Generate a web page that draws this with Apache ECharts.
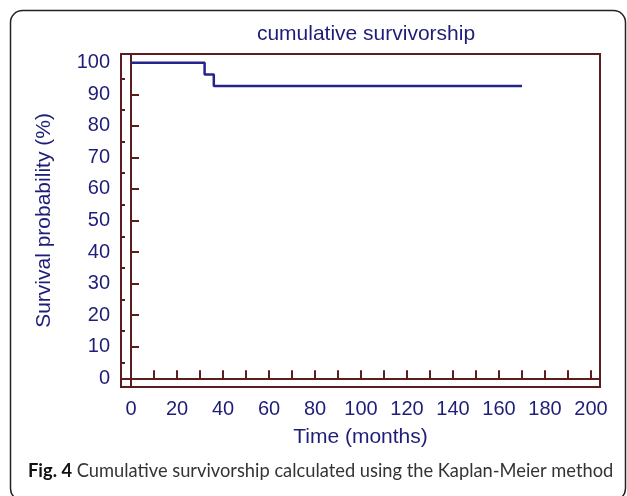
<!DOCTYPE html>
<html>
<head>
<meta charset="utf-8">
<script src="https://cdn.jsdelivr.net/npm/echarts@6/dist/echarts.min.js"></script>
<style>
html,body{margin:0;padding:0;background:#fff;}
#main{width:627px;height:496px;}
</style>
</head>
<body>
<div id="main"></div>
<script>
// Kaplan-Meier step data (months, survival %)
const times = [0, 32, 36, 170];
const survival = [100, 96.3, 92.6, 92.6];
// axis ranges and tick values
const xRange = [-4.35, 203.9];
const yRange = [-2.76, 102.76];
const xTickValues = [0,10,20,30,40,50,60,70,80,90,100,110,120,130,140,150,160,170,180,190,200];
const xLabelValues = [0,20,40,60,80,100,120,140,160,180,200];
const yTickValues = [0,10,20,30,40,50,60,70,80,90,100];
const yMinorValues = [5,15,25,35,45,55,65,75,85,95];
const titleText = 'cumulative survivorship';
const xName = 'Time (months)';
const yName = 'Survival probability (%)';
const captionBold = 'Fig. 4';
const captionText = ' Cumulative survivorship calculated using the Kaplan-Meier method';

const navy = '#1e1e78';
const maroon = '#5a1e1e';
const FF = "'Liberation Sans', Arial, sans-serif";

const chart = echarts.init(document.getElementById('main'), null, {renderer: 'canvas'});
const data = times.map((t, i) => [t, survival[i]]);

chart.setOption({
  animation: false,
  backgroundColor: '#fff',
  title: {
    text: titleText, left: 361, top: 19, textAlign: 'center',
    textStyle: {fontFamily: FF, fontSize: 21, fontWeight: 'normal', color: navy}
  },
  grid: {left: 121, right: 27, top: 54, bottom: 109, containLabel: false,
         show: true, borderColor: maroon, borderWidth: 2, backgroundColor: 'transparent'},
  xAxis: {
    type: 'value', min: xRange[0], max: xRange[1],
    name: xName, nameLocation: 'middle', nameGap: 40,
    nameTextStyle: {fontFamily: FF, fontSize: 21, color: navy},
    axisLine: {show: true, lineStyle: {color: maroon, width: 2}},
    axisTick: {show: true, inside: true, length: 8, customValues: xTickValues,
               lineStyle: {color: maroon, width: 2}},
    axisLabel: {margin: 12, fontFamily: FF, fontSize: 20, color: navy,
                customValues: xLabelValues},
    splitLine: {show: false}
  },
  yAxis: [{
    type: 'value', min: yRange[0], max: yRange[1],
    name: yName, nameLocation: 'middle', nameGap: 66,
    nameTextStyle: {fontFamily: FF, fontSize: 21, color: navy},
    axisLine: {show: true, lineStyle: {color: maroon, width: 2}},
    axisTick: {show: true, inside: true, length: 8, customValues: yTickValues,
               lineStyle: {color: maroon, width: 2}},
    axisLabel: {margin: 11, fontFamily: FF, fontSize: 20, color: navy,
                customValues: yTickValues},
    splitLine: {show: false}
  }, {
    type: 'value', min: yRange[0], max: yRange[1], position: 'left',
    axisLine: {show: false},
    axisTick: {show: true, inside: true, length: 4, customValues: yMinorValues,
               lineStyle: {color: maroon, width: 2}},
    axisLabel: {show: false},
    splitLine: {show: false}
  }],
  series: [{
    type: 'line', step: 'end', data: data, symbol: 'none', yAxisIndex: 0,
    lineStyle: {color: '#24248a', width: 2.5}
  }],
  graphic: [
    {type: 'rect', shape: {x: 10.5, y: 10.5, width: 615, height: 490, r: 12},
     style: {fill: null, stroke: '#222', lineWidth: 1.5}, silent: true, z: 0},
    {type: 'text', left: 28, top: 462, z: 10,
     style: {text: '{b|' + captionBold + '}{n|' + captionText + '}',
       rich: {
         b: {fontFamily: 'Lato', fontWeight: 'bold', fontSize: 18.3, fill: '#111'},
         n: {fontFamily: 'Lato', fontSize: 18.3, fill: '#333'}
       }}}
  ]
});
</script>
</body>
</html>
